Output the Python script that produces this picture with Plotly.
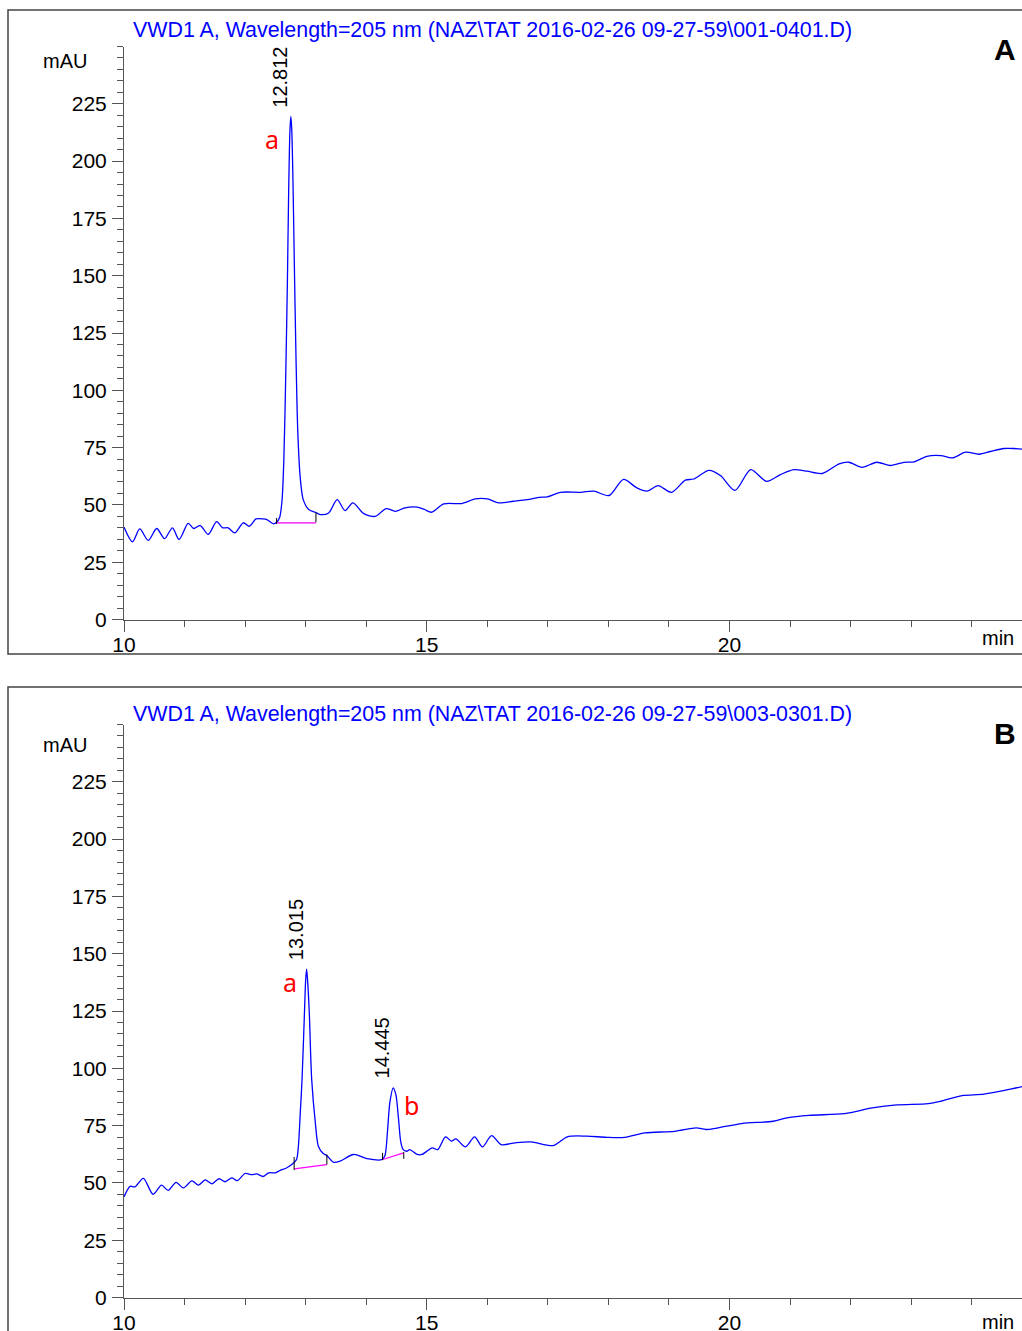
import plotly.graph_objects as go

W, H = 1022, 1331

# ---------------- data ----------------
# Panel A chromatogram (time in min, signal in mAU)
a_time = [10.00, 10.14, 10.26, 10.40, 10.54, 10.67, 10.80, 10.91, 11.06, 11.15, 11.26, 11.39,
          11.53, 11.63, 11.72, 11.83, 11.97, 12.07, 12.18, 12.30, 12.36, 12.47, 12.52, 12.57,
          12.61, 12.64, 12.67, 12.70, 12.72, 12.74, 12.755, 12.77, 12.79, 12.81, 12.84, 12.87,
          12.91, 12.96,
          13.05, 13.16, 13.24, 13.38, 13.52, 13.65, 13.78, 13.96, 14.15, 14.33, 14.48, 14.64,
          14.84, 14.96, 15.08, 15.28, 15.58, 15.80, 16.00, 16.19, 16.43, 16.66, 16.85, 16.99,
          17.21, 17.54, 17.76, 18.01, 18.25, 18.47, 18.64, 18.82, 19.04, 19.27, 19.41, 19.66,
          19.85, 20.09, 20.35, 20.61, 20.84, 21.06, 21.28, 21.53, 21.81, 21.97, 22.19, 22.43,
          22.66, 22.88, 23.05, 23.26, 23.49, 23.68, 23.90, 24.12, 24.31, 24.53, 24.70, 24.84]
a_mau = [40.3, 33.9, 39.5, 34.5, 39.7, 35.3, 40.0, 34.9, 41.9, 39.7, 41.0, 37.1,
         42.7, 40.0, 40.0, 37.8, 42.2, 40.7, 43.9, 43.9, 43.6, 41.7, 42.4, 44.5,
         52.0, 70.0, 105.0, 150.0, 188.0, 213.0, 219.5, 214.0, 192.0, 160.0, 115.0, 82.0,
         62.0, 52.3,
         48.0, 46.8, 45.8, 46.5, 52.3, 47.5, 50.9, 46.2, 45.0, 48.4, 47.2, 48.7,
         49.0, 48.0, 46.8, 50.4, 50.6, 52.6, 52.6, 50.9, 51.6, 52.3, 53.3, 53.5,
         55.5, 55.5, 56.0, 54.1, 61.1, 57.4, 56.0, 58.4, 55.5, 60.8, 61.3, 65.1,
         62.8, 56.3, 65.4, 60.3, 63.2, 65.4, 64.7, 63.7, 67.9, 68.6, 66.4, 68.6,
         67.2, 68.6, 68.8, 71.2, 71.5, 70.5, 73.0, 72.1, 73.3, 74.6, 74.6, 74.3]

# Panel B chromatogram
b_time = [10.00, 10.10, 10.18, 10.32, 10.48, 10.62, 10.73, 10.86, 10.98, 11.12, 11.23, 11.34,
          11.45, 11.57, 11.67, 11.78, 11.87, 12.00, 12.11, 12.19, 12.30, 12.39, 12.50, 12.58,
          12.69, 12.80, 12.85, 12.88, 12.91, 12.94, 12.98, 13.00, 13.015, 13.03, 13.06, 13.10,
          13.16, 13.21,
          13.29, 13.35, 13.46, 13.57, 13.79, 14.01, 14.26, 14.31, 14.35, 14.39, 14.445, 14.49,
          14.53, 14.57, 14.61, 14.67, 14.72, 14.84, 14.92, 15.09, 15.18, 15.31, 15.41, 15.48,
          15.64,
          15.79, 15.92, 16.07, 16.23, 16.46, 16.72, 17.09, 17.32, 17.64, 17.97, 18.27, 18.60,
          19.09, 19.45, 19.61, 19.81, 20.20, 20.72, 20.95, 21.31, 21.90, 22.36, 22.76, 23.28,
          23.48, 23.84, 24.20, 24.66, 24.84]
b_mau = [43.9, 48.5, 48.3, 52.0, 45.0, 49.0, 46.7, 50.2, 47.8, 50.9, 49.0, 51.3,
         49.6, 51.8, 50.5, 52.2, 51.0, 54.1, 53.6, 53.9, 52.8, 54.4, 54.4, 55.5,
         56.6, 58.7, 60.2, 66.0, 80.0, 95.0, 124.2, 138.5, 143.3, 139.0, 124.2, 95.0,
         76.2, 66.0,
         62.8, 61.9, 59.0, 59.5, 62.4, 60.6, 60.2, 62.0, 72.0, 85.0, 91.5, 88.5,
         79.0, 68.0, 64.5, 63.8, 64.5, 62.4, 62.4, 65.3, 64.5, 70.1, 68.2, 69.2,
         65.7,
         70.1, 65.7, 70.6, 66.7, 67.5, 67.9, 66.3, 70.1, 70.4, 69.9, 69.9, 71.8,
         72.5, 74.0, 73.3, 74.0, 75.9, 76.9, 78.4, 79.5, 80.2, 82.7, 84.0, 84.6,
         85.6, 88.1, 88.7, 91.0, 92.1]

# Peak apexes and retention-time labels
a_peak_t = [12.755]
a_peak_h = [219.5]
a_peak_lbl = ["12.812"]
b_peak_t = [13.015, 14.445]
b_peak_h = [143.3, 91.5]
b_peak_lbl = ["13.015", "14.445"]

# Integration baselines (start/end) and their tick marks
a_base_t = [12.52, 13.17]
a_base_y = [42.2, 42.2]
a_tick_t = [12.52, 13.17]
a_tick_lo = [41.7, 42.4]
a_tick_hi = [44.3, 46.8]

b_base1_t = [12.81, 13.35]
b_base1_y = [56.1, 58.0]
b_base2_t = [14.27, 14.62]
b_base2_y = [60.2, 63.1]
b_tick_t = [12.81, 13.35, 14.27, 14.62]
b_tick_lo = [55.6, 58.0, 59.9, 60.5]
b_tick_hi = [61.3, 62.4, 63.1, 63.5]

# Red compound letters (position in data units)
a_letter = ["a"]
a_letter_t = [12.44]
a_letter_y = [209.7]
b_letter = ["a", "b"]
b_letter_t = [12.74, 14.75]
b_letter_y = [137.7, 83.8]

x_major = [10, 15, 20]
y_major = [0, 25, 50, 75, 100, 125, 150, 175, 200, 225]

titles = ["VWD1 A, Wavelength=205 nm (NAZ\\TAT 2016-02-26 09-27-59\\001-0401.D)",
          "VWD1 A, Wavelength=205 nm (NAZ\\TAT 2016-02-26 09-27-59\\003-0301.D)"]
panel_tags = ["A", "B"]

# ---------------- figure ----------------
def pp(py):
    return 1 - py / H

FONT = "Liberation Sans, Arial, sans-serif"
AXC = "#555555"
BLUE = "#0000ff"

fig = go.Figure()

def add_panel(xa, ya, t, y, base_sets, tick_t, tick_lo, tick_hi):
    fig.add_trace(go.Scatter(x=t, y=y, mode="lines", xaxis=xa, yaxis=ya,
                             line=dict(color=BLUE, width=1.3, shape="spline", smoothing=0.8),
                             showlegend=False, hoverinfo="skip"))
    for bt, by in base_sets:
        fig.add_trace(go.Scatter(x=bt, y=by, mode="lines", xaxis=xa, yaxis=ya,
                                 line=dict(color="#ff00ff", width=1.2),
                                 showlegend=False, hoverinfo="skip"))
    tx, ty = [], []
    for tt, lo, hi in zip(tick_t, tick_lo, tick_hi):
        tx += [tt, tt, None]
        ty += [lo, hi, None]
    fig.add_trace(go.Scatter(x=tx, y=ty, mode="lines", xaxis=xa, yaxis=ya,
                             line=dict(color="#000000", width=1),
                             showlegend=False, hoverinfo="skip"))

add_panel("x", "y", a_time, a_mau, [(a_base_t, a_base_y)], a_tick_t, a_tick_lo, a_tick_hi)
add_panel("x2", "y2", b_time, b_mau, [(b_base1_t, b_base1_y), (b_base2_t, b_base2_y)],
          b_tick_t, b_tick_lo, b_tick_hi)

xcommon = dict(range=[10, 24.83], domain=[124 / W, 1.0], showline=True, linecolor=AXC, linewidth=1,
               showgrid=False, zeroline=False, tickvals=x_major, ticks="outside", ticklen=11,
               tickwidth=1, tickcolor=AXC, ticklabelstandoff=-5, automargin=False,
               tickfont=dict(family=FONT, size=21, color="black"),
               minor=dict(dtick=1, tick0=10, ticks="outside", ticklen=6, tickwidth=1, tickcolor=AXC,
                          showgrid=False))
ycommon = dict(range=[0, 250], showline=True, linecolor=AXC, linewidth=1, showgrid=False,
               zeroline=False, tickvals=y_major, ticks="outside", ticklen=11, tickwidth=1,
               tickcolor=AXC, ticklabelstandoff=1, automargin=False,
               tickfont=dict(family=FONT, size=21, color="black"),
               minor=dict(dtick=5, tick0=0, ticks="outside", ticklen=6, tickwidth=1, tickcolor=AXC,
                          showgrid=False))

fig.update_layout(
    width=W, height=H, margin=dict(l=0, r=0, t=0, b=0, pad=0, autoexpand=False),
    paper_bgcolor="white", plot_bgcolor="white",
    xaxis=dict(**xcommon, anchor="y"),
    yaxis=dict(**ycommon, anchor="x", domain=[pp(619.5), pp(46.5)]),
    xaxis2=dict(**xcommon, anchor="y2"),
    yaxis2=dict(**ycommon, anchor="x2", domain=[pp(1297.5), pp(724.5)]),
)

ann = []
# panel frames and texts
frames = [(10, 654), (687, 1345)]
for i, (top, bot) in enumerate(frames):
    fig.add_shape(type="rect", xref="paper", yref="paper", x0=8 / W, x1=1.01, y0=pp(bot), y1=pp(top),
                  line=dict(color="#444444", width=1.5), fillcolor="rgba(0,0,0,0)", layer="below")
off = [0, 684]
for i in range(2):
    o = off[i]
    ann.append(dict(text=titles[i], xref="paper", yref="paper", x=131 / W, y=pp(30 + o),
                    xanchor="left", yanchor="middle", showarrow=False,
                    font=dict(family=FONT, size=21.4, color=BLUE)))
    ann.append(dict(text="mAU", xref="paper", yref="paper", x=65 / W, y=pp(61 + o),
                    xanchor="center", yanchor="middle", showarrow=False,
                    font=dict(family=FONT, size=20, color="black")))
    ann.append(dict(text="min", xref="paper", yref="paper", x=998 / W, y=pp(638 + o),
                    xanchor="center", yanchor="middle", showarrow=False,
                    font=dict(family=FONT, size=20, color="black")))
    ann.append(dict(text="<b>" + panel_tags[i] + "</b>", xref="paper", yref="paper", x=1005 / W,
                    y=pp(49 + o), xanchor="center", yanchor="middle", showarrow=False,
                    font=dict(family=FONT, size=30, color="black")))

for (xr, yr, pts, phs, lbls) in [("x", "y", a_peak_t, a_peak_h, a_peak_lbl),
                                 ("x2", "y2", b_peak_t, b_peak_h, b_peak_lbl)]:
    for pt, ph, lb in zip(pts, phs, lbls):
        ann.append(dict(text=lb, xref=xr, yref=yr, x=pt, y=ph, textangle=-90,
                        xanchor="center", yanchor="bottom", xshift=-11, yshift=7, showarrow=False,
                        font=dict(family=FONT, size=20, color="black")))

for (xr, yr, ls, lt, ly) in [("x", "y", a_letter, a_letter_t, a_letter_y),
                             ("x2", "y2", b_letter, b_letter_t, b_letter_y)]:
    for l, t, y in zip(ls, lt, ly):
        ann.append(dict(text=l, xref=xr, yref=yr, x=t, y=y, xanchor="center", yanchor="middle",
                        showarrow=False, font=dict(family="Noto Sans, sans-serif", size=25, color="#ff0000")))

fig.update_layout(annotations=ann)
fig.write_html("out.html",
               config={"displayModeBar": False},
               post_script="document.body.style.margin='0';document.body.style.padding='0';"
                           "document.body.style.overflow='hidden';"
                           "document.documentElement.style.overflow='hidden';")
